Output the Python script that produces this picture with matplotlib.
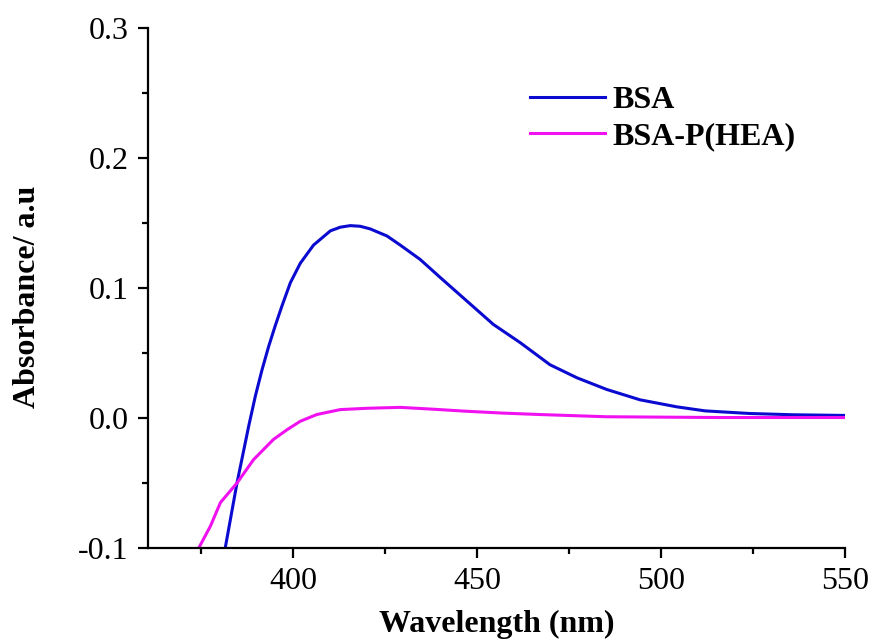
import matplotlib
matplotlib.use("Agg")
import matplotlib.pyplot as plt
from matplotlib.ticker import MultipleLocator

plt.rcParams['font.family'] = ['Liberation Serif', 'DejaVu Serif']

# absorbance spectra (nm, a.u.)
wl_bsa = [381.5, 384.7, 387.9, 389.7, 391.5, 393.3, 395.1, 396.9, 399.2, 401.9,
          405.5, 410.1, 412.8, 415.5, 418.2, 420.9, 425.5, 429.1, 434.5, 440.0,
          447.2, 454.4, 461.7, 469.8, 477.1, 485.2, 494.3, 504.3, 512.0, 524.0,
          536.0, 550.0]
abs_bsa = [-0.100, -0.050, -0.006, 0.017, 0.037, 0.055, 0.071, 0.086, 0.104, 0.119,
           0.133, 0.144, 0.1468, 0.148, 0.1475, 0.1455, 0.140, 0.133, 0.122, 0.108,
           0.090, 0.072, 0.058, 0.041, 0.031, 0.022, 0.014, 0.0086, 0.0055, 0.0035,
           0.0025, 0.002]

wl_php = [374.3, 377.5, 380.2, 384.7, 389.2, 394.6, 398.3, 401.9, 406.4, 412.8,
          420.0, 429.1, 438.0, 447.2, 457.0, 467.0, 485.0, 500.0, 516.0, 550.0]
abs_php = [-0.100, -0.083, -0.065, -0.050, -0.032, -0.0165, -0.009, -0.0025, 0.0027, 0.0065,
           0.0075, 0.0082, 0.0068, 0.0052, 0.0038, 0.0027, 0.001, 0.0007, 0.0004, 0.0004]

fig = plt.figure(figsize=(8.72, 6.44), dpi=100)
ax = fig.add_axes([0.1697, 0.149, 0.7993, 0.8075])

ax.plot(wl_bsa, abs_bsa, color='#0a0ad0', lw=2.2, label='BSA')
ax.plot(wl_php, abs_php, color='#f010f0', lw=2.2, label='BSA-P(HEA)')

ax.set_xlim(360.5, 550)
ax.set_ylim(-0.1, 0.3)
ax.xaxis.set_minor_locator(MultipleLocator(25))
ax.yaxis.set_minor_locator(MultipleLocator(0.05))
ax.set_xticks([400, 450, 500, 550])
ax.set_yticks([-0.1, 0.0, 0.1, 0.2, 0.3])
ax.set_yticklabels(['-0.1', '0.0', '0.1', '0.2', '0.3'])

for side in ('top', 'right'):
    ax.spines[side].set_visible(False)
for side in ('left', 'bottom'):
    ax.spines[side].set_linewidth(1.6)

ax.tick_params(which='major', direction='out', length=7, width=1.6, labelsize=23, pad=7)
ax.tick_params(which='minor', direction='out', length=4.5, width=1.6)

ax.set_xlabel('Wavelength (nm)', fontsize=23, fontweight='bold', labelpad=10)
ax.set_ylabel('Absorbance/ a.u', fontsize=23, fontweight='bold')
ax.yaxis.set_label_coords(-0.152, 0.483)

ax.legend(loc='upper left', bbox_to_anchor=(0.548, 0.889), frameon=False,
          borderpad=0, borderaxespad=0, handlelength=2.35, handletextpad=0.22,
          labelspacing=0.22, prop={'size': 23, 'weight': 'bold'})

fig.savefig('out.png', dpi=100)
